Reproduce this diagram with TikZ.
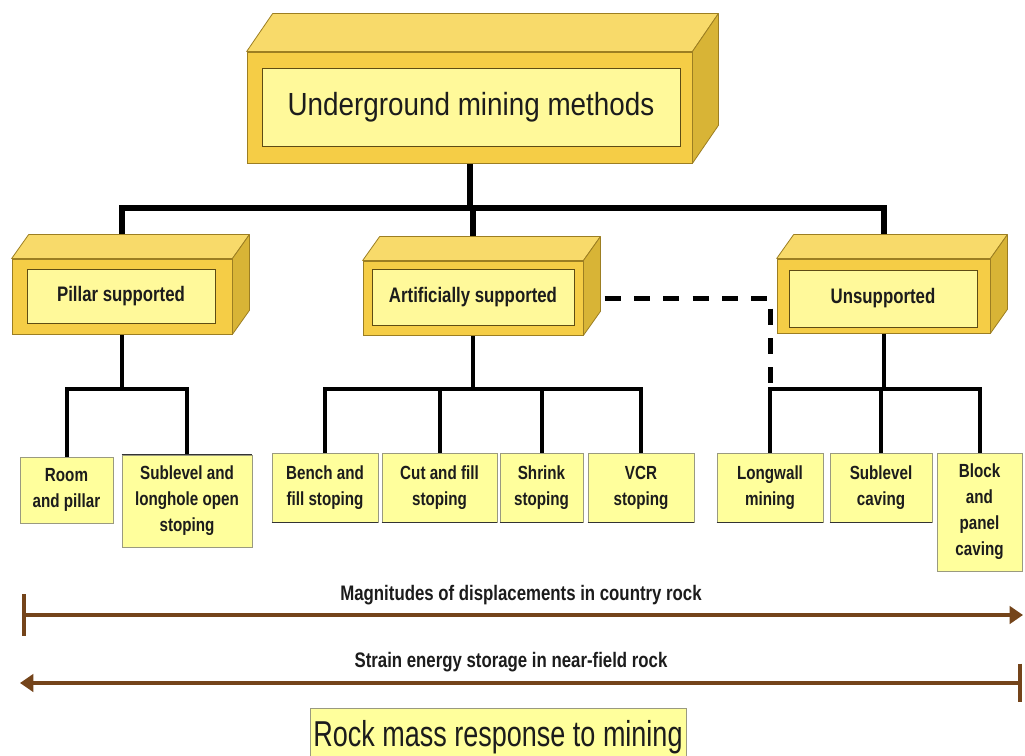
\documentclass[tikz,border=0pt]{standalone}
\usepackage{fontspec}
\usetikzlibrary{calc,arrows.meta}
\newfontfamily\cf[FakeStretch=0.8]{Liberation Sans}
\newfontfamily\cft[FakeStretch=0.87]{Liberation Sans}
\newfontfamily\cfb[FakeStretch=0.75]{Liberation Sans}
\definecolor{face}{HTML}{F5CD46}
\definecolor{topc}{HTML}{F8DA6A}
\definecolor{sidec}{HTML}{D8B436}
\definecolor{edgec}{HTML}{9C7E22}
\definecolor{panel}{HTML}{FFF99A}
\definecolor{leafc}{HTML}{FFFF9C}
\definecolor{leafe}{HTML}{9A9A80}
\definecolor{brownc}{HTML}{74441A}
\definecolor{txt}{HTML}{1C1C1C}
\pgfdeclarelayer{back}
\pgfdeclarelayer{bg}
\pgfsetlayers{back,bg,main}
\tikzset{
 sz/.style 2 args={minimum width=#1*0.75pt, minimum height=#2*0.75pt, inner sep=0pt},
 frontface/.style={draw=edgec, fill=face, line width=0.6pt, rectangle},
 sideface/.style={fill=sidec, draw=edgec, line width=0.6pt, line join=round},
 topface/.style={fill=topc, draw=edgec, line width=0.6pt, line join=round},
 panelbox/.style={draw=edgec!60!black, fill=panel, line width=0.6pt, text=txt, align=center},
 leaf/.style={draw=leafe, fill=leafc, line width=0.6pt, text=txt, align=center, font=\cf\bfseries\fontsize{14.25}{19.5}\selectfont},
 leafdark/.style={line width=1pt, black!80},
 midtext/.style={font=\cf\bfseries\fontsize{15.75}{18}\selectfont},
 link/.style={line width=3pt, black},
 trunk/.style={line width=4.5pt, black},
 dlink/.style={line width=3.75pt, black, dash pattern=on 12pt off 10pt, dash phase=6pt},
 scalearrow/.style={line width=3pt, brownc},
 alabel/.style={text=txt, font=\cf\bfseries\fontsize{15.75}{18}\selectfont, inner sep=0pt},
}
\newcommand\boxfaces[3]{%
 \filldraw[topface] (#1.north west) -- ++(#2,#3) -- ($(#1.north east)+(#2,#3)$) -- (#1.north east) -- cycle;
 \filldraw[sideface] (#1.north east) -- ++(#2,#3) -- ($(#1.south east)+(#2,#3)$) -- (#1.south east) -- cycle;
}
\begin{document}
\begin{tikzpicture}[x=0.75pt,y=-0.75pt]
\useasboundingbox (0,0) rectangle (1025,756);
\clip (0,0) rectangle (1025,756);
\begin{pgfonlayer}{back}
\fill[white] (0,0) rectangle (1025,756);
\end{pgfonlayer}

% top box
\node[frontface, sz={445}{111}] (topF) at (469.5,107.5) {};
\boxfaces{topF}{26}{-38}
\node[panelbox, sz={418}{78}, font=\cft\fontsize{24}{28}\selectfont] (topI) at (471,107) {Underground mining methods};

% mid boxes
\node[frontface, sz={220}{75}] (pilF) at (122,296.5) {};
\boxfaces{pilF}{17}{-24}
\node[panelbox, sz={188}{54}, midtext] (pilI) at (121,296) {Pillar supported};

\node[frontface, sz={220}{74}] (artF) at (473,298) {};
\boxfaces{artF}{17}{-24}
\node[panelbox, sz={202}{56}, midtext] (artI) at (473,297) {Artificially supported};

\node[frontface, sz={213}{74}] (unsF) at (883.5,296) {};
\boxfaces{unsF}{17}{-24}
\node[panelbox, sz={188}{57}, midtext] (unsI) at (883,298.5) {Unsupported};

% leaves
\node[leaf, sz={93}{66}] (room) at (66.5,490) {Room\\and pillar};
\node[leaf, sz={130}{92}] (subl) at (187,501) {Sublevel and\\longhole open\\stoping};
\node[leaf, sz={106}{69}] (bench) at (325,487.5) {Bench and\\fill stoping};
\node[leaf, sz={115}{69}] (cut) at (439.5,487.5) {Cut and fill\\stoping};
\node[leaf, sz={83}{69}] (shrink) at (541.5,487.5) {Shrink\\stoping};
\node[leaf, sz={106}{69}] (vcr) at (641,487.5) {VCR\\stoping};
\node[leaf, sz={106}{69}] (longw) at (770,487.5) {Longwall\\mining};
\node[leaf, sz={102}{69}] (subc) at (881,487.5) {Sublevel\\caving};
\node[leaf, sz={85}{118}] (block) at (979.5,512) {Block\\and\\panel\\caving};
\foreach \n in {bench,cut,shrink,vcr,longw,subc}
  \draw[leafdark] (\n.south west) -- (\n.south east);
\draw[leafdark] (subl.north west) -- (subl.north east);

% connectors
\coordinate (bar1) at (0,208);
\coordinate (bar2) at (0,389);
\begin{pgfonlayer}{bg}
\draw[trunk] (topF.south) -- (topF.south |- bar1);
\draw[trunk] (pilF.north) |- (unsF.north |- bar1) -- (unsF.north);
\draw[trunk] (artF.north |- bar1) -- (artF.north);
\draw[link] (pilF.south) -- (pilF.south |- bar2);
\draw[link] (room.north) |- (subl.north |- bar2) -- (subl.north);
\draw[link] (artF.south) -- (artF.south |- bar2);
\draw[link] (bench.north) |- (vcr.north |- bar2) -- (vcr.north);
\draw[link] (cut.north) -- (cut.north |- bar2);
\draw[link] (shrink.north) -- (shrink.north |- bar2);
\draw[link] (unsF.south) -- (unsF.south |- bar2);
\draw[link] (longw.north) |- (block.north |- bar2) -- (block.north);
\draw[link] (subc.north) -- (subc.north |- bar2);
\coordinate (dc) at (longw.north |- artF.east);
\draw[dlink] (artF.east) -- (dc) -- (dc |- bar2);
\end{pgfonlayer}

% scale arrows
\coordinate (a1l) at (22,615);
\coordinate (a1r) at (1023,615);
\coordinate (a2l) at (20,683);
\coordinate (a2r) at (1022,683);
\draw[scalearrow, {Bar[width=31pt]}-{Triangle[length=10pt,width=13pt]}] (a1l) -- (a1r);
\draw[scalearrow, {Triangle[length=10pt,width=13pt]}-{Bar[width=29pt]}] (a2l) -- (a2r);
\node[alabel] (l1) at (521,595) {Magnitudes of displacements in country rock};
\node[alabel] (l2) at (511,662) {Strain energy storage in near-field rock};

% bottom box
\node[draw=leafe, fill=leafc, line width=0.6pt, sz={376}{76}, anchor=north west] (rockbox) at (310,708) {};
\node[anchor=base, inner sep=0pt, text=txt, font=\cfb\fontsize{27}{30}\selectfont] (rock) at (498,746) {Rock mass response to mining};
\end{tikzpicture}
\end{document}
